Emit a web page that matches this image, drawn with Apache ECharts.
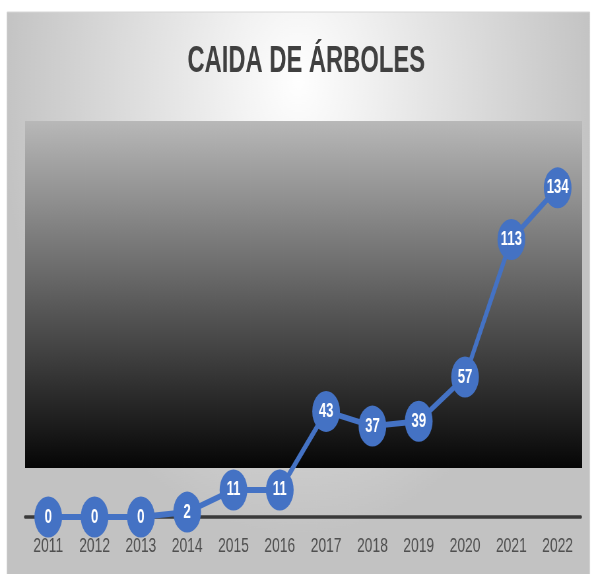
<!DOCTYPE html>
<html>
<head>
<meta charset="utf-8">
<title>Caida de árboles</title>
<script src="https://cdn.jsdelivr.net/npm/echarts@6/dist/echarts.min.js"></script>
<style>
  html, body { margin: 0; padding: 0; background: #ffffff; overflow: hidden; }
  #frame { width: 595px; height: 574px; overflow: hidden; }
  /* The source picture is squeezed sideways, so draw wide and compress. */
  #chart { width: 902px; height: 574px; transform: scaleX(0.66); transform-origin: 0 0; }
</style>
</head>
<body>
<div id="frame"><div id="chart"></div></div>
<script>
// Years on the x axis and fallen trees per year.
var years = ['2011', '2012', '2013', '2014', '2015', '2016', '2017', '2018', '2019', '2020', '2021', '2022'];
var fallenTrees = [0, 0, 0, 2, 11, 11, 43, 37, 39, 57, 113, 134];

var chartTitle = 'CAIDA DE ÁRBOLES';
var baseFont = '"Liberation Sans", Arial, sans-serif';

var chart = echarts.init(document.getElementById('chart'), null, {renderer: 'canvas'});

// Oval marker, stretched to symbolSize.
var ovalSymbol = 'path://M50,0A50,50,0,1,1,50,100A50,50,0,1,1,50,0Z';

var option = {
  animation: false,
  graphic: [
    {
      // Outer chart area with soft radial shading.
      type: 'rect',
      z: -20,
      shape: {x: 10.6, y: 12, width: 883, height: 570},
      style: {
        fill: new echarts.graphic.RadialGradient(0.5, 0.12, 0.8, [
          {offset: 0, color: '#ffffff'},
          {offset: 1, color: '#c2c2c2'}
        ]),
        stroke: '#d6d6d6',
        lineWidth: 1
      }
    },
    {
      // Plot panel, grey to black.
      type: 'rect',
      z: -10,
      shape: {x: 38, y: 121, width: 844, height: 347},
      style: {
        fill: new echarts.graphic.LinearGradient(0, 0, 0, 1, [
          {offset: 0, color: '#b8b8b8'},
          {offset: 1, color: '#060606'}
        ])
      }
    }
  ],
  title: {
    text: chartTitle,
    left: 459,
    textAlign: 'center',
    top: 39,
    textStyle: {
      fontFamily: baseFont,
      fontWeight: 'bold',
      fontSize: 36,
      color: '#404040'
    }
  },
  grid: {
    left: 38,
    right: 22,
    top: 124,
    bottom: 57
  },
  xAxis: {
    type: 'category',
    data: years,
    boundaryGap: true,
    axisLine: {
      lineStyle: {color: '#3a3a3a', width: 3.5}
    },
    axisTick: {show: false},
    axisLabel: {
      color: '#4f4f4f',
      fontFamily: baseFont,
      fontSize: 21,
      margin: 19
    }
  },
  yAxis: {
    type: 'value',
    min: 0,
    max: 160,
    show: false,
    splitLine: {show: false}
  },
  series: [{
    name: 'Caida de árboles',
    type: 'line',
    data: fallenTrees,
    symbol: ovalSymbol,
    symbolSize: [42, 41],
    showAllSymbol: true,
    lineStyle: {color: '#4472c4', width: 6},
    itemStyle: {color: '#4472c4'},
    label: {
      show: true,
      position: 'inside',
      color: '#ffffff',
      fontFamily: baseFont,
      fontWeight: 'bold',
      fontSize: 20
    }
  }]
};

chart.setOption(option);
</script>
</body>
</html>
